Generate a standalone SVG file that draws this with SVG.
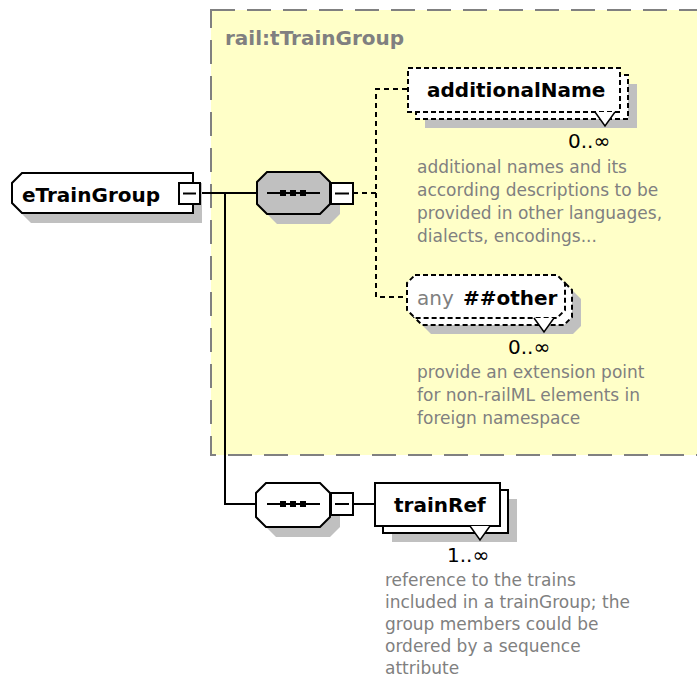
<svg xmlns="http://www.w3.org/2000/svg" width="697" height="685" viewBox="0 0 697 685">
<style>
.lbl{font-family:"DejaVu Sans",sans-serif;font-weight:bold;font-size:20px;fill:#000}
.tlbl{font-family:"DejaVu Sans",sans-serif;font-weight:bold;font-size:20px;fill:#808080}
.any{font-family:"DejaVu Sans",sans-serif;font-size:20px;fill:#808080}
.desc{font-family:"DejaVu Sans",sans-serif;font-size:17px;fill:#808080}
.occ{font-family:"DejaVu Sans",sans-serif;font-size:20px;fill:#000}
.shadow{fill:#c0c0c0}
.box{fill:#fff;stroke:#000;stroke-width:2}
.opt{fill:#fff;stroke:#000;stroke-width:2;stroke-dasharray:5 3}
.seqg{fill:#c0c0c0;stroke:#000;stroke-width:2}
.conn{fill:none;stroke:#000;stroke-width:2}
.dconn{fill:none;stroke:#000;stroke-width:2;stroke-dasharray:5 4}
.notch{fill:#fff;stroke:#000;stroke-width:1.5}
</style>
<g id="type-tTrainGroup">
<rect x="211" y="10" width="500" height="445" fill="#ffffc8" stroke="#808080" stroke-width="2" stroke-dasharray="24 12"/>
<text class="tlbl" x="225" y="45">rail:tTrainGroup</text>
</g>
<g id="connectors">
<path class="conn" d="M200 193H257"/>
<path class="conn" d="M225 193V504H256"/>
<path class="conn" d="M353 504H375"/>
<path class="dconn" d="M353 193H376"/>
<path class="dconn" d="M407 89H376V297H407"/>
</g>
<g id="eTrainGroup">
<polygon class="shadow" points="31,183 202,183 202,223 31,223 21,213 21,193"/>
<polygon class="box" points="22,173 193,173 193,213 22,213 12,203 12,183"/>
<text class="lbl" x="22" y="202">eTrainGroup</text>
<rect class="box" x="179" y="183" width="21" height="21"/>
<path class="conn" d="M183 193.5H196"/>
</g>
<g id="sequence1">
<polygon class="shadow" points="277,182 330,182 340,192 340,214 330,224 277,224 267,214 267,192"/>
<polygon class="seqg" points="267,172 320,172 330,182 330,204 320,214 267,214 257,204 257,182"/>
<path class="conn" d="M267 193H320"/>
<rect x="280" y="190" width="6" height="6"/>
<rect x="290" y="190" width="6" height="6"/>
<rect x="300" y="190" width="6" height="6"/>
<rect class="box" x="331" y="183" width="22" height="21"/>
<path class="conn" d="M335 193.5H349"/>
</g>
<g id="additionalName">
<rect class="shadow" x="425" y="84" width="212" height="44"/>
<rect class="opt" x="416" y="75" width="212" height="44"/>
<rect class="opt" x="408" y="68" width="212" height="44"/>
<polyline class="notch" points="595,112 605,126 615,112"/>
<text class="lbl" x="427" y="97">additionalName</text>
<text class="occ" x="568" y="148">0..∞</text>
<text class="desc" x="417" y="173">additional names and its</text>
<text class="desc" x="417" y="196">according descriptions to be</text>
<text class="desc" x="417" y="219">provided in other languages,</text>
<text class="desc" x="417" y="242">dialects, encodings...</text>
</g>
<g id="anyOther">
<polygon class="shadow" points="431,291 573,291 581,299 581,326 573,334 431,334 423,326 423,299"/>
<polygon class="opt" points="422,282 564,282 572,290 572,317 564,325 422,325 414,317 414,290"/>
<polygon class="opt" points="415,275 557,275 565,283 565,310 557,318 415,318 407,310 407,283"/>
<polyline class="notch" points="534,318 544,332 554,318"/>
<text x="417" y="305"><tspan class="any">any </tspan><tspan class="lbl" x="463">##other</tspan></text>
<text class="occ" x="508" y="354">0..∞</text>
<text class="desc" x="417" y="378">provide an extension point</text>
<text class="desc" x="417" y="401">for non-railML elements in</text>
<text class="desc" x="417" y="424">foreign namespace</text>
</g>
<g id="sequence2">
<polygon class="shadow" points="276,493 330,493 340,503 340,527 330,537 276,537 266,527 266,503"/>
<polygon class="box" points="266,483 320,483 330,493 330,517 320,527 266,527 256,517 256,493"/>
<path class="conn" d="M267 504H320"/>
<rect x="280" y="501" width="6" height="6"/>
<rect x="290" y="501" width="6" height="6"/>
<rect x="300" y="501" width="6" height="6"/>
<rect class="box" x="331" y="493" width="22" height="22"/>
<path class="conn" d="M335 504H349"/>
</g>
<g id="trainRef">
<rect class="shadow" x="392" y="499" width="125" height="43"/>
<rect class="box" x="383" y="490" width="125" height="43"/>
<rect class="box" x="375" y="483" width="125" height="43"/>
<polyline class="notch" points="470,526 480,540 490,526"/>
<text class="lbl" x="394" y="512">trainRef</text>
<text class="occ" x="447" y="562">1..∞</text>
<text class="desc" x="385" y="586">reference to the trains</text>
<text class="desc" x="385" y="608">included in a trainGroup; the</text>
<text class="desc" x="385" y="630">group members could be</text>
<text class="desc" x="385" y="652">ordered by a sequence</text>
<text class="desc" x="385" y="674">attribute</text>
</g>
</svg>
